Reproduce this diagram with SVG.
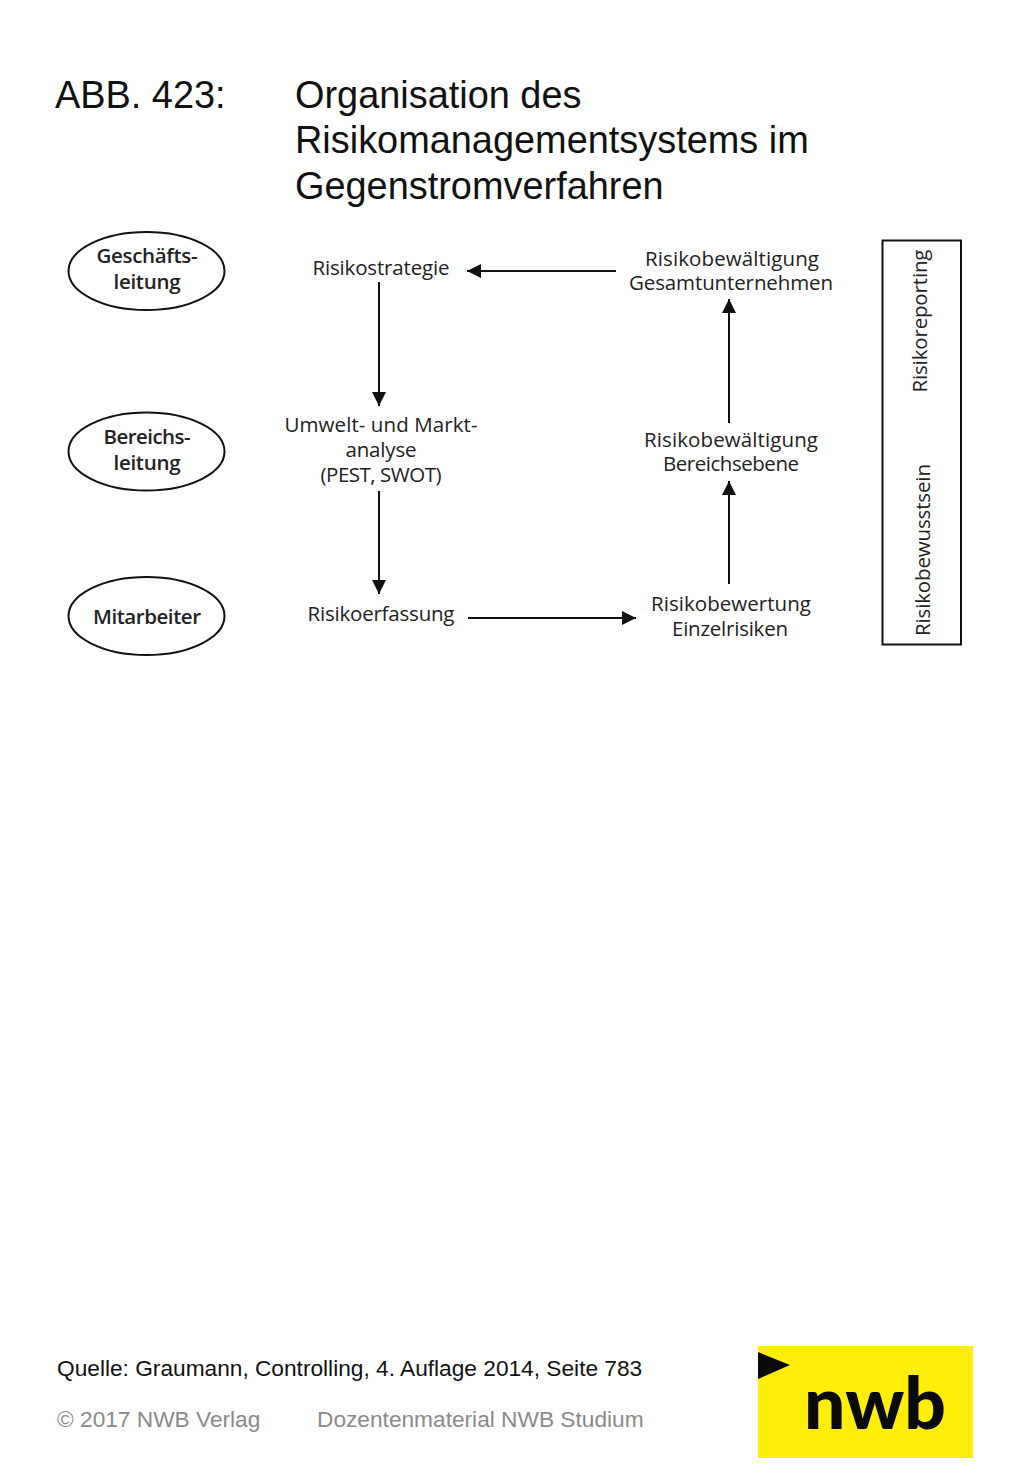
<svg xmlns="http://www.w3.org/2000/svg" width="1024" height="1479" viewBox="0 0 1024 1479">
<style>
.t{font-family:"Liberation Sans",Arial,sans-serif;fill:#111}
.title{font-size:37.9px}
.foot{font-size:22.7px}
.grey{fill:#8a8a8a}
.d{font-family:"Open Sans","Noto Sans",sans-serif;font-size:20.5px;fill:#222;text-anchor:middle}
.db{font-weight:600}
.ell{fill:#fff;stroke:#111;stroke-width:2}
.c{stroke:#111;stroke-width:2;fill:none;marker-end:url(#ah)}
</style>
<defs>
<marker id="ah" markerUnits="userSpaceOnUse" markerWidth="15" markerHeight="15" refX="14" refY="7.5" orient="auto"><path d="M0,0.5 L14,7.5 L0,14.5 Z" fill="#111"/></marker>
</defs>
<rect width="1024" height="1479" fill="#fff"/>
<g id="title">
<text class="t title" x="55" y="108">ABB. 423:</text>
<text class="t title" x="295" y="108">Organisation des</text>
<text class="t title" x="295" y="153">Risikomanagementsystems im</text>
<text class="t title" x="295" y="199">Gegenstromverfahren</text>
</g>
<g id="connectors">
<path class="c" d="M379,282V406"/>
<path class="c" d="M379,491V594"/>
<path class="c" d="M468,618H636"/>
<path class="c" d="M729,584V481"/>
<path class="c" d="M729,423V299"/>
<path class="c" d="M616,271H467"/>
</g>
<g id="n-geschaeftsleitung"><ellipse class="ell" cx="146.500" cy="271" rx="78" ry="39"/>
<text class="d db" x="147" y="263" textLength="101">Geschäfts-</text><text class="d db" x="147" y="289" textLength="67">leitung</text></g>
<g id="n-bereichsleitung"><ellipse class="ell" cx="146.500" cy="451.500" rx="78" ry="39"/>
<text class="d db" x="147" y="444" textLength="87">Bereichs-</text><text class="d db" x="147" y="470" textLength="67">leitung</text></g>
<g id="n-mitarbeiter"><ellipse class="ell" cx="146.500" cy="616" rx="78" ry="39"/>
<text class="d db" x="147" y="624" textLength="108">Mitarbeiter</text></g>
<g id="n-risikostrategie"><text class="d" x="381" y="275" textLength="137">Risikostrategie</text></g>
<g id="n-umwelt"><text class="d" x="381" y="432" textLength="193">Umwelt- und Markt-</text><text class="d" x="381" y="457" textLength="71">analyse</text><text class="d" x="381" y="482" textLength="121">(PEST, SWOT)</text></g>
<g id="n-risikoerfassung"><text class="d" x="381" y="621" textLength="147">Risikoerfassung</text></g>
<g id="n-bewertung"><text class="d" x="731" y="611" textLength="160">Risikobewertung</text><text class="d" x="730" y="636" textLength="116">Einzelrisiken</text></g>
<g id="n-bereichsebene"><text class="d" x="731" y="447" textLength="174">Risikobewältigung</text><text class="d" x="731" y="471" textLength="136">Bereichsebene</text></g>
<g id="n-gesamt"><text class="d" x="732" y="266" textLength="174">Risikobewältigung</text><text class="d" x="731" y="290" textLength="204">Gesamtunternehmen</text></g>
<g id="n-reporting"><rect x="882.500" y="240.500" width="78.500" height="404" fill="#fff" stroke="#111" stroke-width="2"/>
<text class="d" transform="translate(927,321) rotate(-90)" textLength="143">Risikoreporting</text>
<text class="d" transform="translate(930,550) rotate(-90)" textLength="172">Risikobewusstsein</text></g>
<g id="footer">
<text class="t foot" x="57" y="1376">Quelle: Graumann, Controlling, 4. Auflage 2014, Seite 783</text>
<text class="t foot grey" x="57" y="1427">© 2017 NWB Verlag</text>
<text class="t foot grey" x="317" y="1427">Dozentenmaterial NWB Studium</text>
</g>
<g id="logo">
<rect x="758" y="1346" width="215" height="112" fill="#ffed0a"/>
<path d="M758,1352 L790,1365 L758,1379 Z" fill="#0a0a0a"/>
<text x="875" y="1429" text-anchor="middle" font-family="Lato,'Open Sans',sans-serif" font-weight="900" font-size="73" fill="#0a0a0a" textLength="142">nwb</text>
</g>
</svg>
